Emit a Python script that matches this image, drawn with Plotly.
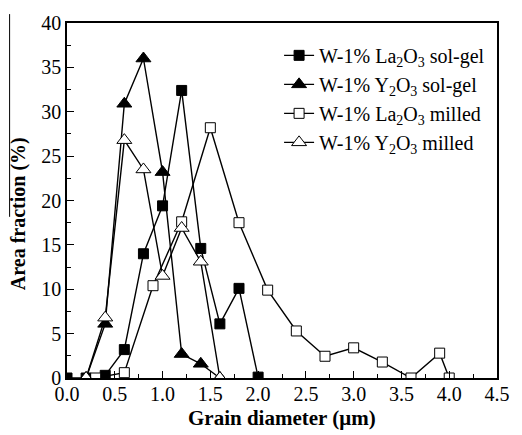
import plotly.graph_objects as go

# Data
la_sg_x = [0.0, 0.2, 0.4, 0.6, 0.8, 1.0, 1.2, 1.4, 1.6, 1.8, 2.0]
la_sg_y = [0.0, 0.0, 0.3, 3.2, 14.0, 19.4, 32.4, 14.6, 6.1, 10.1, 0.1]
y_sg_x = [0.2, 0.4, 0.6, 0.8, 1.0, 1.2, 1.4, 1.6]
y_sg_y = [0.0, 6.1, 30.9, 36.0, 23.2, 2.7, 1.6, 0.0]
la_m_x = [0.3, 0.6, 0.9, 1.2, 1.5, 1.8, 2.1, 2.4, 2.7, 3.0, 3.3, 3.6, 3.9, 4.0]
la_m_y = [0.0, 0.6, 10.4, 17.6, 28.2, 17.5, 9.9, 5.3, 2.45, 3.4, 1.8, 0.0, 2.8, 0.0]
y_m_x = [0.2, 0.4, 0.6, 0.8, 1.0, 1.2, 1.4, 1.6]
y_m_y = [0.0, 6.8, 26.8, 23.5, 11.5, 16.9, 13.1, 0.0]

names = ["W-1% La<sub>2</sub>O<sub>3</sub> sol-gel",
         "W-1% Y<sub>2</sub>O<sub>3</sub> sol-gel",
         "W-1% La<sub>2</sub>O<sub>3</sub> milled",
         "W-1% Y<sub>2</sub>O<sub>3</sub> milled"]

x_ticks = [0.0, 0.5, 1.0, 1.5, 2.0, 2.5, 3.0, 3.5, 4.0, 4.5]
y_ticks = [0, 5, 10, 15, 20, 25, 30, 35, 40]

x_title = "Grain diameter (μm)"
y_title = "Area fraction (%)"

FONT = "Liberation Serif"

fig = go.Figure()
series = [
    (la_sg_x, la_sg_y, names[0], "square", "black", 10),
    (y_sg_x, y_sg_y, names[1], "triangle-up", "black", 13),
    (la_m_x, la_m_y, names[2], "square", "white", 10),
    (y_m_x, y_m_y, names[3], "triangle-up", "white", 13),
]
for i, (xs, ys, nm, sym, fill, sz) in enumerate(series):
    fig.add_trace(go.Scatter(
        x=xs, y=ys, name=nm, mode="lines+markers",
        line=dict(color="black", width=1.4),
        marker=dict(symbol=sym, size=sz, color=fill,
                    line=dict(color="black", width=1)),
    ))

L, R, T, B = 67, 13, 19, 57
W, H = 522, 435
pw, ph = W - L - R, H - T - B


def px(xp):
    return (xp - L) / pw


def py(yp):
    return (H - B - yp) / ph


fig.update_layout(
    width=W, height=H,
    margin=dict(l=L, r=R, t=T, b=B),
    paper_bgcolor="white", plot_bgcolor="white",
    font=dict(family=FONT, size=20, color="black"),
    showlegend=True,
    legend=dict(x=px(285), y=py(32), xanchor="left", yanchor="top",
                bgcolor="rgba(0,0,0,0)", font=dict(family=FONT, size=20),
                itemwidth=30, tracegroupgap=0),
    xaxis=dict(range=[0, 4.5], tickvals=x_ticks,
               ticktext=[f"{v:.1f}" for v in x_ticks],
               ticks="inside", ticklen=7, tickwidth=1.3, tickcolor="black",
               minor=dict(ticks="inside", ticklen=4, tickwidth=1.3, dtick=0.25, tickcolor="black"),
               showline=True, linecolor="black", linewidth=1.5, mirror=True,
               showgrid=False, zeroline=False, ticklabelstandoff=-3,
               tickfont=dict(family=FONT, size=20)),
    yaxis=dict(range=[0, 40], tickvals=y_ticks,
               ticks="inside", ticklen=7, tickwidth=1.3, tickcolor="black",
               minor=dict(ticks="inside", ticklen=4, tickwidth=1.3, dtick=2.5, tickcolor="black"),
               showline=True, linecolor="black", linewidth=1.5, mirror=True,
               showgrid=False, zeroline=False,
               tickfont=dict(family=FONT, size=20)),
    annotations=[
        dict(text=f"<b>{x_title}</b>", xref="paper", yref="paper",
             x=px(288), y=py(418), xanchor="center", yanchor="middle",
             showarrow=False, font=dict(family=FONT, size=21)),
        dict(text=f"<b>{y_title}</b>", xref="paper", yref="paper",
             x=px(18), y=py(212), xanchor="center", yanchor="middle", textangle=-90,
             showarrow=False, font=dict(family=FONT, size=20)),
    ],
    shapes=[dict(type="line", xref="paper", yref="paper",
                 x0=px(8), x1=px(8), y0=py(10), y1=py(215),
                 line=dict(color="black", width=1))],
)

fig.write_html("out.html")
